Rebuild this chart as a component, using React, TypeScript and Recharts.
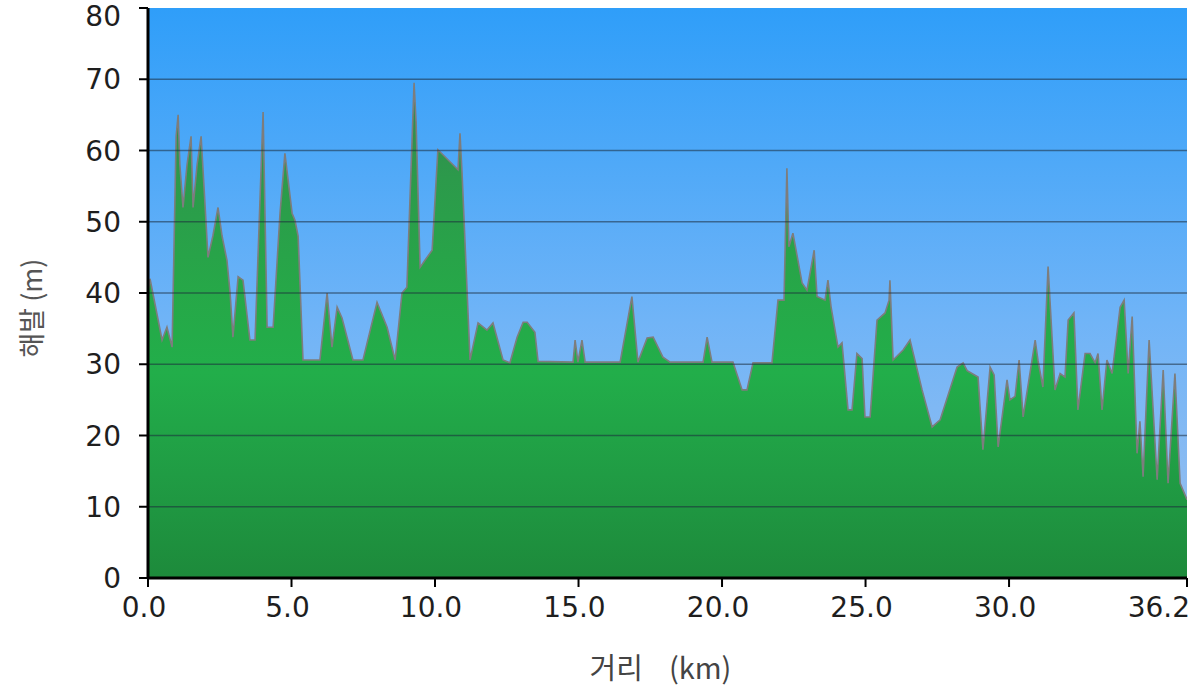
import React from 'react';
import { AreaChart, Area, XAxis, YAxis, CartesianGrid, ReferenceLine, Label } from 'recharts';

const distanceKm: number[] = [
  0.0, 0.07, 0.49, 0.66, 0.84, 0.98, 1.05, 1.11, 1.22, 1.36, 1.5, 1.57, 1.71, 1.85, 1.95, 2.09, 2.26, 2.44, 2.58, 2.75,
  2.86, 2.96, 3.14, 3.31, 3.55, 3.73, 4.01, 4.15, 4.36, 4.6, 4.77, 5.02, 5.12, 5.23, 5.4, 5.99, 6.24, 6.41, 6.59, 6.76,
  7.14, 7.49, 7.98, 8.33, 8.61, 8.85, 9.02, 9.27, 9.34, 9.48, 9.65, 9.9, 10.1, 10.8, 10.87, 10.94, 11.22, 11.5, 11.81, 12.02,
  12.37, 12.61, 12.86, 13.07, 13.21, 13.48, 13.59, 14.81, 14.88, 14.98, 15.12, 15.23, 16.45, 16.86, 17.07, 17.39, 17.6, 17.94, 18.19, 19.34,
  19.48, 19.65, 20.38, 20.7, 20.87, 21.08, 21.74, 21.95, 22.16, 22.26, 22.33, 22.47, 22.79, 22.96, 23.21, 23.31, 23.59, 23.69, 23.8, 24.04,
  24.18, 24.39, 24.53, 24.7, 24.88, 24.98, 25.16, 25.4, 25.68, 25.82, 25.85, 25.96, 26.31, 26.55, 26.97, 27.32, 27.6, 28.19, 28.4, 28.54,
  28.92, 29.09, 29.34, 29.48, 29.62, 29.93, 30.03, 30.21, 30.35, 30.49, 30.91, 31.01, 31.18, 31.36, 31.6, 31.78, 31.95, 32.06, 32.26, 32.4,
  32.65, 32.82, 33.0, 33.1, 33.24, 33.41, 33.59, 33.87, 34.01, 34.15, 34.29, 34.46, 34.56, 34.67, 34.88, 35.16, 35.37, 35.54, 35.78, 35.96,
  36.2,
];

const elevationM: number[] = [
  40, 42, 33.4, 35.2, 32.4, 62, 65, 58, 52, 58, 62, 52, 58, 62, 55, 45, 48, 52, 48, 44.6,
  40, 33.8, 42.3, 41.8, 33.4, 33.4, 65.4, 35.2, 35.2, 51.2, 59.6, 51.2, 50.2, 48, 30.6, 30.6, 40, 32.4, 38, 36.5,
  30.6, 30.6, 38.7, 35.2, 30.6, 40, 40.8, 69.5, 64, 43.6, 44.6, 46, 60.1, 57.3, 62.4, 57, 30.6, 35.8, 34.8, 35.8,
  30.6, 30.2, 33.8, 35.9, 35.9, 34.5, 30.4, 30.3, 33.4, 30.3, 33.4, 30.3, 30.3, 39.5, 30.3, 33.7, 33.8, 31, 30.3, 30.3,
  33.8, 30.3, 30.3, 26.4, 26.4, 30.2, 30.2, 39, 39, 57.5, 46.5, 48.4, 41.4, 40.4, 46, 39.5, 39, 41.8, 38, 32.4,
  33, 23.6, 23.6, 31.5, 30.8, 22.6, 22.6, 36.2, 37.2, 39, 41.8, 30.6, 32, 33.4, 26.4, 21.2, 22.2, 29.6, 30.2, 29.1,
  28.2, 18, 29.6, 28.5, 18.4, 27.8, 25, 25.5, 30.6, 22.6, 33.4, 30.5, 26.8, 43.7, 26.4, 28.7, 28.2, 36.2, 37.2, 23.6,
  31.5, 31.5, 30.2, 31.5, 23.6, 30.6, 28.7, 38, 39, 28.7, 36.7, 17.5, 22, 14.2, 33.4, 13.8, 29.2, 13.3, 28.7, 13.3,
  11,
];

const xTicks: number[] = [0, 5, 10, 15, 20, 25, 30, 36.2];
const yTicks: number[] = [0, 10, 20, 30, 40, 50, 60, 70, 80];
const gridLevels: number[] = [10, 20, 30, 40, 50, 60, 70];

const xAxisTitle = '거리\u00A0\u00A0\u00A0\u00A0(km)';
const yAxisTitle = '해발 (m)';

const data = distanceKm.map((km, i) => ({ km, elev: elevationM[i] }));

const FONT = '"DejaVu Sans", Verdana, sans-serif';
const X_MAX = xTicks[xTicks.length - 1];

const YTick = (props: any) => {
  const { x, y, payload } = props;
  const yy = Math.max(y, 16);
  return (
    <text x={x} y={yy} dy="0.36em" textAnchor="end" fontFamily={FONT} fontSize={28} fill="#1e1e1e">
      {payload.value}
    </text>
  );
};

const XTick = (props: any) => {
  const { x, y, payload } = props;
  const isLast = Number(payload.value) === X_MAX;
  return (
    <text
      x={isLast ? x + 3 : x - 4}
      y={y}
      dy="0.78em"
      textAnchor={isLast ? 'end' : 'middle'}
      fontFamily={FONT}
      fontSize={28}
      fill="#1e1e1e"
    >
      {Number(payload.value).toFixed(1)}
    </text>
  );
};

const YTitle = (props: any) => {
  const vb = props.viewBox || { x: 0, y: 8, width: 148, height: 570 };
  const cx = vb.x + 30;
  const cy = vb.y + vb.height / 2 + 15;
  return (
    <text
      x={cx}
      y={cy}
      transform={`rotate(-90 ${cx} ${cy})`}
      textAnchor="middle"
      dominantBaseline="central"
      fontFamily='"Noto Sans CJK KR", "DejaVu Sans", sans-serif'
      fontSize={27}
      fill="#555"
    >
      {yAxisTitle}
    </text>
  );
};

const XTitle = (props: any) => {
  const vb = props.viewBox || { x: 148, y: 578, width: 1039, height: 114 };
  const cx = vb.x + vb.width / 2 - 7;
  const cy = vb.y + 88;
  return (
    <text
      x={cx}
      y={cy}
      textAnchor="middle"
      dominantBaseline="central"
      fontFamily='"Noto Sans CJK KR", "DejaVu Sans", sans-serif'
      fontSize={29}
      fill="#444"
    >
      {xAxisTitle}
    </text>
  );
};

export default function App() {
  return (
    <div style={{ position: 'absolute', left: 0, top: 0, width: 1200, height: 692, background: '#fff' }}>
      <AreaChart width={1200} height={692} data={data} margin={{ top: 8, right: 13, bottom: 0, left: 0 }}>
        <defs>
          <linearGradient id="skyGrad" x1="0" y1="0" x2="0" y2="1">
            <stop offset="0%" stopColor="#2f9ef9" />
            <stop offset="55%" stopColor="#70b4f7" />
            <stop offset="100%" stopColor="#9cc0ee" />
          </linearGradient>
          <linearGradient id="groundGrad" gradientUnits="userSpaceOnUse" x1="0" y1="8" x2="0" y2="578">
            <stop offset="0%" stopColor="#3c6c58" />
            <stop offset="14%" stopColor="#348650" />
            <stop offset="30%" stopColor="#2c9a4b" />
            <stop offset="50%" stopColor="#26a848" />
            <stop offset="64%" stopColor="#22ae4a" />
            <stop offset="82%" stopColor="#209c44" />
            <stop offset="100%" stopColor="#1d8a3b" />
          </linearGradient>
        </defs>
        <CartesianGrid horizontal={false} vertical={false} fill="url(#skyGrad)" fillOpacity={1} stroke="none" />
        <XAxis
          type="number"
          dataKey="km"
          domain={[0, X_MAX]}
          ticks={xTicks}
          interval={0}
          allowDataOverflow
          height={114}
          axisLine={{ stroke: '#000', strokeWidth: 3 }}
          tickLine={{ stroke: '#000', strokeWidth: 2 }}
          tickSize={9}
          tickMargin={8}
          tick={<XTick />}
        >
          <Label content={<XTitle />} />
        </XAxis>
        <YAxis
          type="number"
          domain={[0, 80]}
          ticks={yTicks}
          interval={0}
          width={148}
          axisLine={{ stroke: '#000', strokeWidth: 3 }}
          tickLine={{ stroke: '#000', strokeWidth: 2 }}
          tickSize={9}
          tickMargin={18}
          tick={<YTick />}
        >
          <Label content={<YTitle />} />
        </YAxis>
        <Area
          type="linear"
          dataKey="elev"
          baseValue={0}
          stroke="#7d7d7d"
          strokeWidth={1.6}
          fill="url(#groundGrad)"
          fillOpacity={1}
          isAnimationActive={false}
          dot={false}
          activeDot={false}
        />
        {gridLevels.map((v) => (
          <ReferenceLine key={v} y={v} stroke="#1c2c3c" strokeOpacity={0.55} strokeWidth={1.5} />
        ))}
      </AreaChart>
    </div>
  );
}
